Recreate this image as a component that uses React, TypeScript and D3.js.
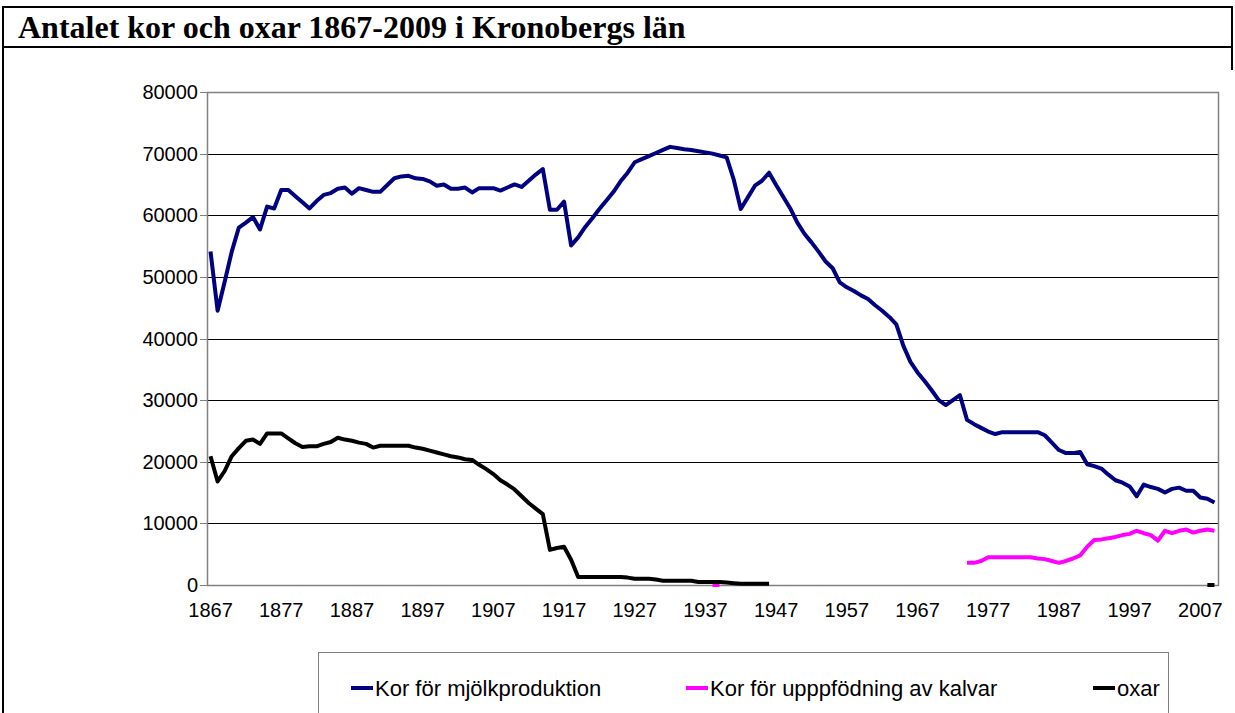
import React from 'react'
import * as d3 from 'd3'

// år 1867-2009, en kategori per år
const years = d3.range(1867, 2010)
const tickYears = d3.range(1867, 2010, 10)
const yTicks = d3.range(0, 80001, 10000)

// Kor för mjölkproduktion 1867-2009
const mjolk = [
  54100, 44500, 49200, 54100, 58000, 58800, 59700, 57700, 61400, 61100,
  64100, 64100, 63100, 62100, 61100, 62300, 63300, 63600, 64300, 64500,
  63500, 64400, 64100, 63800, 63800, 64900, 66000, 66300, 66400, 66000,
  65900, 65500, 64800, 65000, 64300, 64300, 64500, 63700, 64400, 64400,
  64400, 64000, 64500, 65000, 64600, 65600, 66600, 67500, 60900, 60900,
  62200, 55100, 56400, 58100, 59500, 61000, 62400, 63800, 65500, 66900,
  68600, 69100, 69600, 70100, 70600, 71100, 70900, 70700, 70600, 70400,
  70200, 70000, 69700, 69400, 65800, 61000, 62900, 64800, 65600, 66900,
  64900, 63000, 61100, 58800, 57000, 55600, 54100, 52500, 51400, 49100,
  48300, 47700, 47000, 46400, 45400, 44500, 43500, 42300, 38800, 36200,
  34500, 33100, 31600, 30000, 29200, 30000, 30800, 26800, 26100, 25500,
  24900, 24500, 24800, 24800, 24800, 24800, 24800, 24800, 24300, 23100,
  21900, 21400, 21400, 21600, 19600, 19300, 18900, 17900, 17000, 16600,
  16000, 14400, 16300, 15900, 15600, 15000, 15600, 15800, 15300, 15300,
  14200, 14000, 13400,
]

// Kor för uppfödning av kalvar: två korta avsnitt
const kalvarEarlyStart = 1938
const kalvarEarly = [0, 0]
const kalvarStart = 1974
const kalvar = [
  3600, 3600, 3900, 4500, 4500, 4500, 4500, 4500, 4500, 4500,
  4300, 4200, 3900, 3600, 3900, 4300, 4800, 6200, 7300, 7400,
  7600, 7800, 8100, 8300, 8800, 8400, 8100, 7200, 8800, 8400,
  8800, 9000, 8500, 8800, 9000, 8800,
]

// oxar 1867-1946 samt 2008-2009
const oxar = [
  20900, 16800, 18500, 20900, 22200, 23400, 23600, 22900, 24600, 24600,
  24600, 23800, 23000, 22400, 22500, 22500, 22900, 23200, 23900, 23600,
  23400, 23100, 22900, 22300, 22600, 22600, 22600, 22600, 22600, 22300,
  22100, 21800, 21500, 21200, 20900, 20700, 20400, 20300, 19500, 18800,
  18000, 17000, 16300, 15500, 14400, 13300, 12400, 11500, 5700, 6000,
  6200, 4100, 1300, 1300, 1300, 1300, 1300, 1300, 1300, 1200,
  1000, 1000, 1000, 900, 700, 700, 700, 700, 700, 500,
  500, 500, 500, 400, 300, 200, 200, 200, 200, 200,
]
const oxarEndStart = 2008
const oxarEnd = [0, 0]

const seriesNames = ['Kor för mjölkproduktion', 'Kor för upppfödning av kalvar', 'oxar']
const seriesColors = ['#000080', '#ff00ff', '#000000']

type Pt = { year: number; value: number | null }

const fill = (parts: [number, number[]][]): Pt[] =>
  years.map(year => {
    for (const [start, vals] of parts) {
      const i = year - start
      if (i >= 0 && i < vals.length) return { year, value: vals[i] }
    }
    return { year, value: null }
  })

const series: Pt[][] = [
  fill([[1867, mjolk]]),
  fill([[kalvarEarlyStart, kalvarEarly], [kalvarStart, kalvar]]),
  fill([[1867, oxar], [oxarEndStart, oxarEnd]]),
]

const width = 1235
const height = 713
const plot = { left: 207, right: 1218, top: 92, bottom: 585 }
const axisFont = 'Liberation Sans, Arial, sans-serif'

export default function App() {
  const x = d3.scalePoint<number>().domain(years).range([plot.left, plot.right]).padding(0.5)
  const y = d3.scaleLinear().domain([0, 80000]).range([plot.bottom, plot.top])

  const line = d3.line<Pt>()
    .defined(d => d.value !== null)
    .x(d => x(d.year) as number)
    .y(d => y(d.value as number))

  const legendItems = [
    { lx: 351, tx: 375 },
    { lx: 686, tx: 710 },
    { lx: 1093, tx: 1117 },
  ]

  return (
    <div style={{ position: 'absolute', left: 0, top: 0 }}>
      <svg width={width} height={height} style={{ display: 'block', background: '#fff' }}>
        {/* ram runt rubriken */}
        <line x1={2} x2={1233} y1={7} y2={7} stroke="#000" strokeWidth={2} />
        <line x1={2} x2={1233} y1={47} y2={47} stroke="#000" strokeWidth={2} />
        <line x1={3} x2={3} y1={6} y2={713} stroke="#000" strokeWidth={2} />
        <line x1={1232} x2={1232} y1={6} y2={70} stroke="#000" strokeWidth={2} />
        <text x={18} y={38} fontFamily="Liberation Serif, Times New Roman, serif" fontWeight="bold" fontSize={32}>
          Antalet kor och oxar 1867-2009 i Kronobergs län
        </text>

        {/* stödlinjer */}
        {yTicks.map(t => (
          <g key={t}>
            {t > 0 && t < 80000 && (
              <line x1={plot.left} x2={plot.right} y1={Math.round(y(t)) + 0.5} y2={Math.round(y(t)) + 0.5} stroke="#000" />
            )}
            <line x1={plot.left - 7} x2={plot.left} y1={Math.round(y(t)) + 0.5} y2={Math.round(y(t)) + 0.5} stroke="#808080" />
            <text x={plot.left - 9} y={y(t)} dy="0.35em" textAnchor="end" fontFamily={axisFont} fontSize={20}>
              {t}
            </text>
          </g>
        ))}
        <rect x={plot.left + 0.5} y={plot.top + 0.5} width={plot.right - plot.left} height={plot.bottom - plot.top}
          fill="none" stroke="#808080" strokeWidth={1.5} />

        {tickYears.map(t => (
          <text key={t} x={x(t)} y={617} textAnchor="middle" fontFamily={axisFont} fontSize={20}>
            {t}
          </text>
        ))}

        {series.map((s, i) => (
          <path key={i} d={line(s) ?? ''} fill="none" stroke={seriesColors[i]} strokeWidth={4} strokeLinejoin="round" />
        ))}

        {/* förklaring */}
        <rect x={318.5} y={652.5} width={850} height={80} fill="none" stroke="#808080" />
        {legendItems.map((it, i) => (
          <g key={i}>
            <line x1={it.lx} x2={it.lx + 22} y1={688} y2={688} stroke={seriesColors[i]} strokeWidth={4} />
            <text x={it.tx} y={688} dy="0.35em" fontFamily={axisFont} fontSize={22}>{seriesNames[i]}</text>
          </g>
        ))}
      </svg>
    </div>
  )
}
